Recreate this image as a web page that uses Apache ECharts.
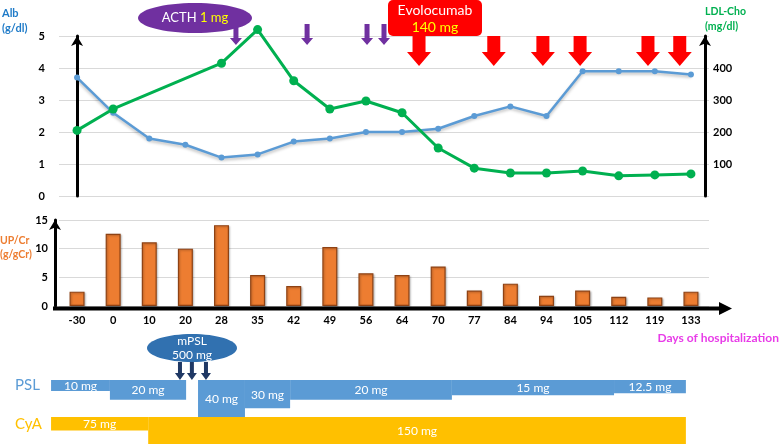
<!DOCTYPE html>
<html><head><meta charset="utf-8">
<script src="https://cdn.jsdelivr.net/npm/echarts@6/dist/echarts.min.js"></script>
<style>html,body{margin:0;padding:0;background:#fff}#c{width:779px;height:444px}</style>
</head><body><div id="c"></div>
<script>
// ---- data ----
const days = ['-30','0','10','20','28','35','42','49','56','64','70','77','84','94','105','112','119','133'];
const albumin = [3.7,2.6,1.8,1.6,1.2,1.3,1.7,1.8,2.0,2.0,2.1,2.5,2.8,2.5,3.9,3.9,3.9,3.8];
const ldlCho = [205,272,null,null,415,520,360,272,297,260,150,87,72,72,78,63,66,69];
const upcr = [2.5,12.6,11.1,10.0,14.1,5.4,3.5,10.3,5.7,5.4,6.9,2.7,3.9,1.8,2.7,1.6,1.5,2.5];
const albTicks = [0,1,2,3,4,5];
const ldlTicks = [100,200,300,400];
// dosing periods, positions along the day axis in category-index units
const pslStart = [-0.72,0.91,3.35,4.65,5.90,10.38,14.87];
const pslEnd   = [0.91,3.02,4.65,5.90,10.38,14.87,16.86];
const pslDose  = [10,20,40,30,20,15,12.5];
const cyaStart = [-0.72,1.97];
const cyaEnd   = [1.97,16.86];
const cyaDose  = [75,150];
// administration events (category-index units)
const acthEvents = [4.40,6.37,8.03,8.50];
const evoEvents  = [9.47,11.54,12.90,13.93,15.81,16.69];
const mpslEvents = [2.85,3.18,3.57];

const FONT = 'Lato';
const G = {left:59, right:70};

function arrowPts(x, y0, y1, sw, hw, hh){
  return [[x-sw/2,y0],[x+sw/2,y0],[x+sw/2,y1-hh],[x+hw/2,y1-hh],[x,y1],[x-hw/2,y1-hh],[x-sw/2,y1-hh]];
}
function arrowSeries(data, xAxisIndex, yAxisIndex, y0, y1, sw, hw, hh, color){
  return {
    type:'custom', xAxisIndex, yAxisIndex, silent:true, z:5,
    data: data.map(d=>[d,0]),
    renderItem(params, api){
      const x = api.coord([api.value(0), 0])[0];
      return {type:'polygon', shape:{points:arrowPts(x,y0,y1,sw,hw,hh)}, style:{fill:color}};
    }
  };
}
function doseSeries(starts, ends, doses, xAxisIndex, yAxisIndex, color, textFn){
  return {
    type:'custom', xAxisIndex, yAxisIndex, silent:true,
    data: starts.map((s,i)=>[s, ends[i], doses[i]]),
    renderItem(params, api){
      const top = params.coordSys.y;
      const s = api.coord([api.value(0), doses[0]]);
      const e = api.coord([api.value(1), api.value(2)]);
      return {type:'group', children:[
        {type:'rect', shape:{x:s[0], y:top, width:e[0]-s[0], height:e[1]-top}, style:{fill:color}},
        {type:'text', style:{text:textFn(api.value(2)), x:(s[0]+e[0])/2, y:(top+e[1])/2 + 0.5,
          align:'center', verticalAlign:'middle', fill:'#fff', font:'12px '+FONT}, z2:10}
      ]};
    }
  };
}

const chart = echarts.init(document.getElementById('c'), null, {renderer:'canvas'});
const boldLab = {color:'#000', fontWeight:'bold', fontSize:11, fontFamily:FONT};
const axisLineArrow = {show:true, lineStyle:{color:'#000', width:3}, symbol:['none','arrow'], symbolSize:[9,10]};

chart.setOption({
  animation:false,
  backgroundColor:'#fff',
  grid:[
    {left:G.left, right:G.right, top:36, height:160},
    {left:G.left, right:G.right, top:220, height:86},
    {left:G.left, right:G.right, top:380, height:37},
    {left:G.left, right:G.right, top:417, height:27}
  ],
  xAxis:[
    {type:'category', gridIndex:0, data:days, show:false},
    {type:'category', gridIndex:1, data:days, axisLine:{show:false}, axisTick:{show:false},
      axisLabel:Object.assign({interval:0, margin:9}, boldLab)},
    {type:'value', gridIndex:2, min:-0.5, max:17.5, show:false},
    {type:'value', gridIndex:3, min:-0.5, max:17.5, show:false},
    {type:'value', gridIndex:0, min:-0.5, max:17.5, show:false}
  ],
  yAxis:[
    {type:'value', gridIndex:0, min:albTicks[0], max:albTicks[albTicks.length-1], interval:1, offset:5,
      axisLine:axisLineArrow, axisTick:{show:false},
      axisLabel:Object.assign({margin:9}, boldLab),
      splitLine:{lineStyle:{color:'#d9d9d9', width:1}}},
    {type:'value', gridIndex:0, position:'right', min:0, max:500, interval:100, offset:-4,
      axisLine:axisLineArrow, axisTick:{show:false},
      axisLabel:Object.assign({margin:8, padding:[6,0,0,0], formatter:v=>ldlTicks.includes(v)?String(v):''}, boldLab),
      splitLine:{show:false}},
    {type:'value', gridIndex:1, min:0, max:15, interval:5, offset:4,
      axisLine:axisLineArrow, axisTick:{show:false},
      axisLabel:Object.assign({margin:7}, boldLab),
      splitLine:{lineStyle:{color:'#d9d9d9', width:1}}},
    {type:'value', gridIndex:2, min:-2.65, max:40, inverse:true, show:false},
    {type:'value', gridIndex:3, min:0, max:150, inverse:true, show:false}
  ],
  series:[
    {type:'line', name:'Alb', xAxisIndex:0, yAxisIndex:0, data:albumin, clip:false,
      symbol:'circle', symbolSize:6, z:3,
      itemStyle:{color:'#5B9BD5'},
      lineStyle:{color:'#5B9BD5', width:2.5, shadowColor:'rgba(0,0,0,0.25)', shadowBlur:3, shadowOffsetY:2}},
    {type:'line', name:'LDL-Cho', xAxisIndex:0, yAxisIndex:1, data:ldlCho, connectNulls:true, clip:false,
      symbol:'circle', symbolSize:9, z:4,
      itemStyle:{color:'#00B050'},
      lineStyle:{color:'#00B050', width:3}},
    {type:'bar', name:'UP/Cr', xAxisIndex:1, yAxisIndex:2, data:upcr, barWidth:15,
      itemStyle:{color:'#ED7D31', borderColor:'#8E4214', borderWidth:1.2,
        shadowColor:'rgba(0,0,0,0.25)', shadowBlur:2, shadowOffsetX:1, shadowOffsetY:1}},
    doseSeries(pslStart, pslEnd, pslDose, 2, 3, '#5B9BD5', v=>v+' mg'),
    doseSeries(cyaStart, cyaEnd, cyaDose, 3, 4, '#FFC000', v=>v+' mg'),
    arrowSeries(acthEvents, 4, 0, 24, 45, 5, 12, 7, '#7030A0'),
    arrowSeries(evoEvents, 4, 0, 36, 66, 13, 24, 14, '#FF0000'),
    arrowSeries(mpslEvents, 2, 3, 362, 380, 4, 10, 7, '#1F3864')
  ],
  graphic:[
    // bottom x axis with arrow
    {type:'line', shape:{x1:53, y1:308.5, x2:722, y2:308.5}, style:{stroke:'#000', lineWidth:4}, z:20},
    {type:'polygon', shape:{points:[[719,302],[732,308.5],[719,315]]}, style:{fill:'#000'}, z:20},
    // axis titles
    {type:'text', left:2, top:6, style:{text:'Alb\n(g/dl)', fill:'#1F7BC8', font:'bold 11px '+FONT, lineHeight:15}},
    {type:'text', left:705, top:4, style:{text:'LDL-Cho\n(mg/dl)', fill:'#00B050', font:'bold 10.5px '+FONT, lineHeight:15}},
    {type:'text', left:0, top:234, style:{text:'UP/Cr\n(g/gCr)', fill:'#ED7D31', font:'bold 10.5px '+FONT, lineHeight:14}},
    {type:'text', right:0, top:332, style:{text:'Days of hospitalization', fill:'#E83CE8', font:'bold 12px '+FONT}},
    {type:'text', left:15, top:378, style:{text:'PSL', fill:'#5B9BD5', font:'15px '+FONT}},
    {type:'text', left:15, top:417, style:{text:'CyA', fill:'#FFC000', font:'15px '+FONT}},
    // ACTH label
    {type:'ellipse', shape:{cx:195, cy:18, rx:57, ry:15}, style:{fill:'#7030A0'}, z:30},
    {type:'text', x:195, y:18, z:31, style:{text:'{w|ACTH} {y|1 mg}', align:'center', verticalAlign:'middle',
      font:'13px '+FONT, rich:{w:{fill:'#fff', font:'13px '+FONT}, y:{fill:'#FFFF00', font:'13px '+FONT}}}},
    // Evolocumab label
    {type:'rect', shape:{x:388, y:0, width:94, height:36, r:5}, style:{fill:'#FF0000'}, z:30},
    {type:'text', x:435, y:10, z:31, style:{text:'Evolocumab', align:'center', verticalAlign:'middle', fill:'#fff', font:'14px '+FONT}},
    {type:'text', x:435, y:27, z:31, style:{text:'140 mg', align:'center', verticalAlign:'middle', fill:'#FFFF00', font:'14px '+FONT}},
    // mPSL label
    {type:'ellipse', shape:{cx:192, cy:348, rx:45, ry:14}, style:{fill:'#3171B0'}, z:30},
    {type:'text', x:192, y:341, z:31, style:{text:'mPSL', align:'center', verticalAlign:'middle', fill:'#fff', font:'12px '+FONT}},
    {type:'text', x:192, y:355, z:31, style:{text:'500 mg', align:'center', verticalAlign:'middle', fill:'#fff', font:'12px '+FONT}}
  ]
});
</script></body></html>
